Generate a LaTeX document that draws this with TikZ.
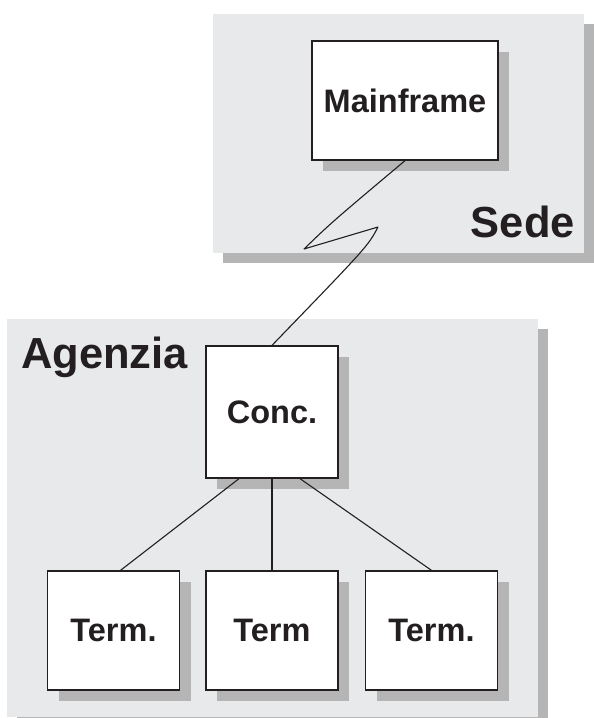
\documentclass[tikz,border=0pt]{standalone}
\usepackage{fontspec}
\setmainfont{Liberation Sans}
\usetikzlibrary{shadows,calc}
\definecolor{panelgray}{HTML}{E8E9EB}
\definecolor{shadowgray}{HTML}{B5B5B5}
\definecolor{inkdark}{HTML}{231F20}
\tikzset{
  panel/.style={fill=panelgray, draw=none,
    drop shadow={shadow xshift=10pt, shadow yshift=-10pt, fill=shadowgray, opacity=1}},
  unitbox/.style={draw=inkdark, line width=1.3pt, fill=white, inner sep=0pt,
    font=\fontsize{32.5}{38}\selectfont\bfseries, text=inkdark,
    drop shadow={shadow xshift=11pt, shadow yshift=-11pt, fill=shadowgray, opacity=1}},
  sitelabel/.style={inner sep=0pt, font=\fontsize{43.5}{50}\selectfont\bfseries, text=inkdark},
  link/.style={draw=inkdark, line width=1.1pt, line join=round}
}
\begin{document}
\begin{tikzpicture}[x=1pt,y=-1pt]
  \useasboundingbox (0,0) rectangle (594,718);
  % site areas
  \fill[panel] (213,14) rectangle (584,253);
  \fill[panel] (7,319) rectangle (538,717);
  \node[sitelabel, anchor=base east] (sede) at (575,237) {Sede};
  \node[sitelabel, anchor=base west] (agenzia) at (21,368) {Agenzia};

  % units
  \node[unitbox, minimum width=186pt, minimum height=119pt] (main) at (405,100.5) {Mainframe};
  \node[unitbox, minimum width=132pt, minimum height=132pt] (conc) at (272,412) {Conc.};
  \node[unitbox, minimum width=132pt, minimum height=119pt] (t1) at (113.5,630.5) {Term.};
  \node[unitbox, minimum width=132pt, minimum height=119pt] (t2) at (272,630.5) {Term};
  \node[unitbox, minimum width=132pt, minimum height=119pt] (t3) at (431.5,630.5) {Term.};

  % remote link (lightning shape)
  \coordinate (zl) at (304,249);
  \coordinate (zr) at (378,227);
  \draw[link] (main.south) .. controls (332,222) .. (zl) -- (zr)
              .. controls (368,246) .. (conc.north);

  % local links
  \draw[link] ([xshift=-33pt]conc.south) -- ([xshift=7pt]t1.north);
  \draw[link] (conc.south) -- (t2.north);
  \draw[link] ([xshift=28pt]conc.south) -- (t3.north);
\end{tikzpicture}
\end{document}
